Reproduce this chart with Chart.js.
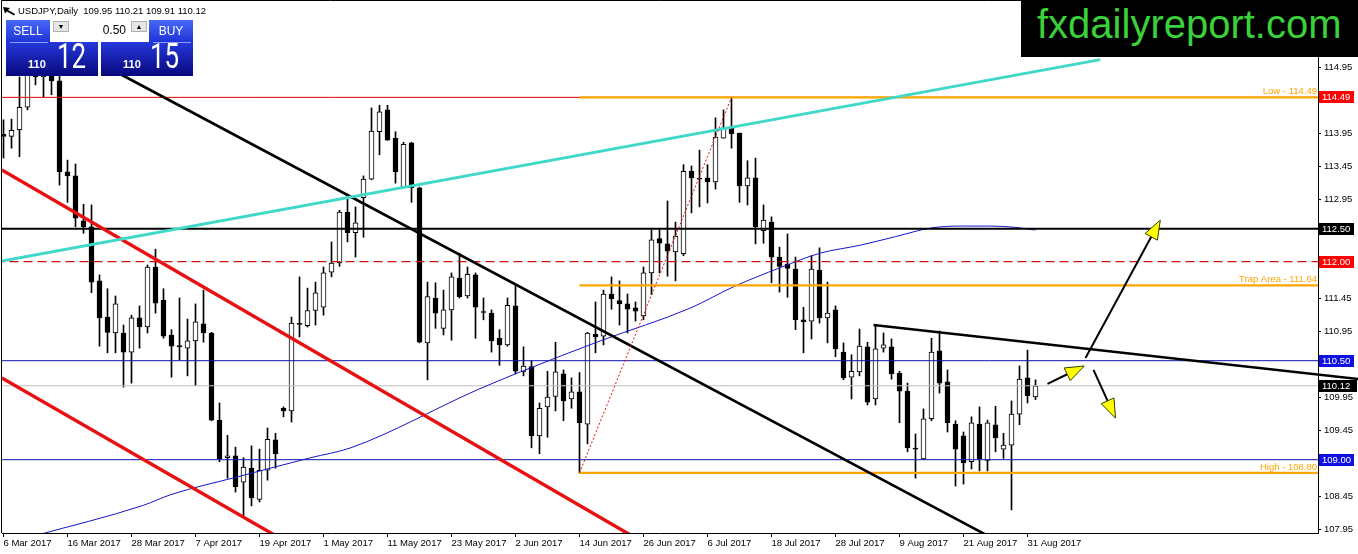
<!DOCTYPE html>
<html>
<head>
<meta charset="utf-8">
<script src="https://cdn.jsdelivr.net/npm/chart.js@4.4.1/dist/chart.umd.min.js"></script>
<style>
  body { margin: 0; background: #fff; overflow: hidden; }
  #wrap { position: relative; width: 1358px; height: 554px; font-family: "Liberation Sans", Arial, sans-serif; }
  #chart { position: absolute; left: 0; top: 0; }
  .abs { position: absolute; }
  .hdr { left: 18px; top: 5px; font-size: 9.5px; line-height: 12px; white-space: pre; color: #000; }
  .btn { top: 20px; width: 44px; height: 22px; color: #fff; font-size: 12px; line-height: 22px; text-align: center;
         background: linear-gradient(#4868f6, #1f34d8); }
  .ctl { left: 51px; top: 20px; width: 97px; height: 22px; background: #fff; }
  .arr { top: 21px; width: 16px; height: 11px; background: #e6e6e6; border: 1px solid #b0b0b0; box-sizing: border-box;
         font-size: 7px; line-height: 10px; text-align: center; color: #000; }
  .lot { left: 72px; top: 23px; width: 54px; text-align: right; font-size: 12px; color: #000; }
  .big { top: 42px; width: 92px; height: 34px; background: linear-gradient(#2538dc, #08087c); overflow: hidden; }
  .sep { top: 42px; width: 38px; height: 1px; background: rgba(190, 200, 255, 0.7); }
  .fig { top: 59px; font-size: 11px; font-weight: bold; line-height: 11px; color: #fff; }
  .pip { top: 39px; font-family: Roboto, "Liberation Sans", sans-serif; font-size: 35px; line-height: 35px; color: #fff;
         transform: scaleX(0.74); transform-origin: left top; }
  #logo { left: 1021px; top: 0; width: 337px; height: 57px; background: #000; }
  #logo span { position: absolute; left: 16px; top: 4px; font-size: 40px; line-height: 40px; color: #3ad13a; white-space: nowrap; }
</style>
</head>
<body>
<div id="wrap">
  <canvas id="chart" width="1358" height="554"></canvas>
  <svg class="abs" style="left:2px;top:6px" width="14" height="10"><path d="M1 1 L8 2 L6 4 L13 8 L12 9.5 L5 5.5 L3 7.5 Z" fill="#000"/></svg>
  <div class="abs hdr">USDJPY,Daily  109.95 110.21 109.91 110.12</div>
  <div class="abs btn" style="left:6px">SELL</div>
  <div class="abs ctl"></div>
  <div class="abs arr" style="left:53px">&#9660;</div>
  <div class="abs lot">0.50</div>
  <div class="abs arr" style="left:131px">&#9650;</div>
  <div class="abs btn" style="left:149px">BUY</div>
  <div class="abs big" style="left:6px"></div>
  <div class="abs big" style="left:101px"></div>
  <div class="abs sep" style="left:10px"></div>
  <div class="abs sep" style="left:153px"></div>
  <div class="abs fig" style="left:28px">110</div>
  <div class="abs pip" style="left:57px">12</div>
  <div class="abs fig" style="left:123px">110</div>
  <div class="abs pip" style="left:150px">15</div>
  <div id="logo" class="abs"><span>fxdailyreport.com</span></div>
</div>
<script>
// bar index 0 = 6 Mar 2017, one bar per trading day, last bar = 1 Sep 2017
const dateLabels = ["6 Mar 2017", "16 Mar 2017", "28 Mar 2017", "7 Apr 2017", "19 Apr 2017", "1 May 2017",
  "11 May 2017", "23 May 2017", "2 Jun 2017", "14 Jun 2017", "26 Jun 2017", "6 Jul 2017", "18 Jul 2017",
  "28 Jul 2017", "9 Aug 2017", "21 Aug 2017", "31 Aug 2017"];
const dateTickBars = [0, 8, 16, 24, 32, 40, 48, 56, 64, 72, 80, 88, 96, 104, 112, 120, 128];
const priceTicks = [107.95, 108.45, 108.95, 109.45, 109.95, 110.45, 110.95, 111.45, 111.95, 112.45,
  112.95, 113.45, 113.95, 114.45, 114.95, 115.45];

const opens = [113.93, 113.90, 114.00, 114.34, 114.95, 114.80, 114.85, 114.74, 113.36, 113.30,
  112.62, 112.53, 111.71, 111.16, 110.92, 110.92, 110.63, 111.15, 111.01, 111.92,
  111.42, 110.89, 110.73, 110.69, 110.80, 111.06, 110.92, 109.60, 109.03, 109.06,
  108.66, 108.87, 108.40, 108.84, 109.30, 109.78, 109.74, 111.06, 111.03, 111.26,
  111.31, 111.84, 111.98, 112.75, 112.44, 112.97, 113.25, 113.97, 114.30, 113.87,
  113.13, 113.80, 113.12, 110.77, 111.45, 110.99, 111.27, 111.75, 111.48, 111.80,
  111.24, 111.22, 110.84, 110.74, 111.33, 110.33, 110.41, 109.36, 109.80, 109.96,
  110.30, 109.92, 110.03, 109.54, 110.90, 110.87, 111.51, 111.41, 111.36, 111.30,
  111.18, 111.83, 112.35, 112.27, 112.15, 112.12, 113.37, 113.26, 113.27, 113.21,
  113.87, 114.03, 113.95, 113.15, 113.27, 112.47, 112.60, 112.07, 111.96, 111.89,
  111.12, 111.10, 111.87, 111.15, 111.27, 110.63, 110.25, 110.33, 110.71, 109.92,
  110.69, 110.71, 110.31, 110.04, 109.17, 109.01, 109.62, 110.65, 110.18, 109.54,
  109.36, 108.97, 109.54, 108.99, 109.53, 109.16, 109.22, 109.69, 110.24, 109.95];
const highs = [114.15, 114.16, 114.80, 115.15, 115.45, 115.05, 115.00, 114.90, 113.54, 113.48,
  112.87, 112.86, 111.80, 111.59, 111.48, 111.04, 111.19, 111.33, 111.95, 112.19,
  111.59, 110.97, 111.45, 111.13, 111.36, 111.57, 110.93, 109.86, 109.37, 109.19,
  109.03, 109.21, 109.16, 109.48, 109.40, 109.80, 111.16, 111.77, 111.60, 111.69,
  111.92, 112.30, 112.78, 112.98, 112.83, 113.30, 114.33, 114.37, 114.37, 113.97,
  113.81, 113.81, 113.13, 111.69, 111.68, 111.57, 111.83, 112.13, 111.92, 111.83,
  111.45, 111.27, 110.97, 111.45, 111.65, 110.71, 110.50, 109.86, 110.34, 110.78,
  110.36, 110.24, 110.32, 110.93, 111.39, 111.57, 111.77, 111.71, 111.51, 111.39,
  111.92, 112.48, 112.50, 112.92, 112.60, 113.47, 113.45, 113.69, 113.47, 114.18,
  114.30, 114.49, 113.95, 113.53, 113.57, 112.86, 112.68, 112.22, 112.42, 112.07,
  111.31, 112.09, 112.21, 111.69, 111.33, 110.77, 110.59, 110.98, 110.78, 111.04,
  110.92, 110.83, 110.34, 110.16, 109.39, 109.77, 110.84, 110.95, 110.36, 109.59,
  109.42, 109.65, 109.80, 109.60, 109.81, 109.40, 109.89, 110.42, 110.66, 110.21];
const lows = [113.57, 113.72, 113.59, 114.30, 114.68, 114.50, 114.53, 113.16, 112.90, 112.53,
  112.43, 111.53, 110.72, 110.62, 110.62, 110.10, 110.16, 110.69, 110.92, 111.22,
  110.84, 110.25, 110.51, 110.27, 110.12, 110.78, 109.59, 108.97, 108.72, 108.51,
  108.13, 108.30, 108.36, 108.69, 108.87, 109.65, 109.57, 110.86, 111.01, 111.04,
  111.19, 111.77, 111.93, 112.30, 112.07, 112.37, 113.24, 113.62, 113.84, 113.19,
  113.13, 112.90, 110.77, 110.21, 110.99, 110.89, 110.81, 111.45, 111.45, 110.84,
  111.12, 110.63, 110.43, 110.72, 110.30, 110.27, 109.18, 109.09, 109.34, 109.74,
  109.59, 109.78, 108.80, 109.24, 110.62, 110.74, 111.28, 111.04, 110.92, 111.10,
  111.12, 111.50, 111.83, 111.78, 111.71, 112.09, 112.74, 112.83, 112.89, 113.10,
  113.87, 113.72, 112.90, 112.86, 112.27, 112.28, 111.68, 111.54, 111.46, 110.97,
  110.62, 110.83, 111.07, 110.77, 110.56, 110.21, 109.92, 110.27, 109.83, 109.83,
  110.63, 110.22, 109.56, 109.12, 108.72, 109.00, 109.59, 110.01, 109.42, 108.60,
  108.63, 108.86, 108.83, 108.83, 109.12, 109.02, 108.24, 109.53, 109.86, 109.91];
const closes = [113.90, 113.99, 114.34, 114.95, 114.80, 114.85, 114.74, 113.36, 113.30, 112.66,
  112.53, 111.69, 111.15, 110.93, 111.36, 110.63, 111.15, 111.01, 111.92, 111.37,
  110.87, 110.72, 110.71, 110.80, 111.09, 110.92, 109.60, 109.01, 109.06, 108.59,
  108.89, 108.42, 108.84, 109.31, 109.09, 109.74, 111.07, 111.05, 111.26, 111.53,
  111.83, 111.98, 112.75, 112.44, 112.59, 113.25, 113.98, 114.27, 113.84, 113.36,
  113.78, 113.12, 110.78, 111.47, 111.22, 111.27, 111.77, 111.47, 111.81, 111.31,
  111.23, 110.80, 110.74, 111.34, 110.34, 110.42, 109.36, 109.78, 109.95, 110.33,
  109.89, 110.03, 109.56, 110.92, 110.86, 111.51, 111.44, 111.36, 111.28, 111.25,
  111.83, 112.33, 112.28, 112.16, 112.39, 113.37, 113.27, 113.25, 113.21, 113.89,
  114.03, 113.94, 113.15, 113.27, 112.53, 112.63, 112.07, 111.93, 111.90, 111.12,
  111.09, 111.89, 111.15, 111.22, 110.68, 110.24, 110.34, 110.72, 109.87, 110.68,
  110.74, 110.30, 110.04, 109.18, 109.16, 109.62, 110.63, 110.16, 109.56, 109.16,
  108.95, 109.56, 109.01, 109.56, 109.33, 109.22, 109.69, 110.22, 109.97, 110.12];

// moving average
const maBars = [4, 17.5, 20.9, 29.25, 38.4, 43.4, 59.25, 64.6, 74.6, 85.9, 91.25, 97.1, 102.1, 107.1,
  111.5, 115.9, 119.6, 123.4, 126.5, 129];
const maValues = [107.85, 108.31, 108.47, 108.74, 109.03, 109.18, 110.06, 110.33, 110.80, 111.30, 111.62,
  111.91, 112.13, 112.25, 112.38, 112.51, 112.54, 112.54, 112.52, 112.48];

// drawn objects: [bar, price] end points
const cyanLine = [[-0.2, 112.01], [137.1, 115.06]];
const redUpper = [[-0.2, 113.39], [78.5, 107.85]];
const redLower = [[-0.2, 110.24], [34, 107.85]];
const blackFall = [[13.4, 114.92], [123, 107.85]];
const blackTop = [[108.75, 111.04], [169.5, 110.22]];
const swingLine = [[72, 108.80], [91, 114.49]];
const arrows = [
  [[130.5, 110.15], [135.1, 110.42]],
  [[135.25, 110.54], [144.6, 112.63]],
  [[136.25, 110.36], [139.0, 109.63]]
];
const noteLevels = [114.49, 111.64, 108.80];
const noteTexts = ["Low - 114.49", "Trap Area - 111.64", "High - 108.80"];
const tagLevels = [114.49, 112.50, 112.00, 110.50, 109.00, 110.12];

const X_MIN = -0.1875, X_MAX = 164.3125, FROM = -1, TO = 170;

function seg(pts) { return pts.map(p => ({ x: p[0], y: p[1] })); }
function flat(v, a) { return [{ x: a, y: v }, { x: TO, y: v }]; }
function lineSet(data, color, width, order, extra) {
  return Object.assign({ type: 'line', data, borderColor: color, borderWidth: width, pointRadius: 0,
    fill: false, order }, extra || {});
}

function drawArrow(ctx, x1, y1, x2, y2) {
  const ang = Math.atan2(y2 - y1, x2 - x1), len = 19, half = 7;
  const bx = x2 - len * Math.cos(ang), by = y2 - len * Math.sin(ang);
  ctx.strokeStyle = '#000';
  ctx.lineWidth = 2;
  ctx.beginPath(); ctx.moveTo(x1, y1); ctx.lineTo(bx, by); ctx.stroke();
  ctx.beginPath();
  ctx.moveTo(x2, y2);
  ctx.lineTo(bx + half * Math.sin(ang), by - half * Math.cos(ang));
  ctx.lineTo(bx - half * Math.sin(ang), by + half * Math.cos(ang));
  ctx.closePath();
  ctx.fillStyle = '#ffff00';
  ctx.fill();
  ctx.lineWidth = 1;
  ctx.strokeStyle = '#3a3a00';
  ctx.stroke();
}

const overlay = {
  id: 'overlay',
  afterDatasetsDraw(chart) {
    const { ctx, chartArea: a, scales: { x, y } } = chart;
    ctx.save();
    ctx.beginPath(); ctx.rect(a.left, a.top, a.right - a.left, a.bottom - a.top); ctx.clip();
    arrows.forEach(([p, q]) => drawArrow(ctx, x.getPixelForValue(p[0]), y.getPixelForValue(p[1]),
      x.getPixelForValue(q[0]), y.getPixelForValue(q[1])));
    ctx.font = '9.5px "Liberation Sans", Arial, sans-serif';
    ctx.fillStyle = '#ffa500';
    ctx.textAlign = 'right';
    ctx.textBaseline = 'bottom';
    noteLevels.forEach((v, i) => ctx.fillText(noteTexts[i], a.right - 1, y.getPixelForValue(v) - 1));
    ctx.restore();
  },
  afterDraw(chart) {
    const { ctx, chartArea: a, scales: { y } } = chart;
    const tagBg = ['#ff0000', '#000000', '#ff0000', '#1010e0', '#1010e0', '#000000'];
    ctx.save();
    ctx.font = '9.5px "Liberation Sans", Arial, sans-serif';
    ctx.textAlign = 'left';
    ctx.textBaseline = 'middle';
    tagLevels.forEach((v, i) => {
      const py = Math.round(y.getPixelForValue(v));
      ctx.fillStyle = tagBg[i];
      ctx.fillRect(a.right + 1, py - 6, i === 5 ? 38 : 35, 12);
      ctx.fillStyle = '#fff';
      ctx.fillText(v.toFixed(2), a.right + 4, py + 0.5);
    });
    ctx.strokeStyle = '#000';
    ctx.lineWidth = 1;
    ctx.beginPath();
    ctx.moveTo(a.left - 0.5, a.bottom);
    ctx.lineTo(a.left - 0.5, a.top - 0.5);
    ctx.lineTo(a.right, a.top - 0.5);
    ctx.stroke();
    ctx.restore();
  }
};

const wickData = opens.map((o, i) => ({ x: i, y: [lows[i], highs[i]] }));
const bodyData = opens.map((o, i) => ({ x: i, y: [o, closes[i]] }));
const bodyFill = opens.map((o, i) => closes[i] > o ? '#ffffff' : '#000000');
const maData = maBars.map((b, i) => ({ x: b, y: maValues[i] }));

Chart.defaults.font.family = '"Liberation Sans", Arial, sans-serif';
Chart.defaults.font.size = 9.5;
Chart.defaults.color = '#000';

new Chart(document.getElementById('chart').getContext('2d'), {
  type: 'bar',
  data: {
    datasets: [
      { type: 'bar', data: wickData, backgroundColor: '#000', borderWidth: 0, barThickness: 1, grouped: false, order: 11 },
      { type: 'bar', data: bodyData, backgroundColor: bodyFill, borderColor: '#000', borderWidth: 1,
        borderSkipped: false, barThickness: 5, minBarLength: 1, grouped: false, order: 10 },
      lineSet(flat(110.12, FROM), '#c0c0c0', 1, 8),
      lineSet(maData, '#1414c8', 1, 6, { cubicInterpolationMode: 'monotone' }),
      lineSet(flat(110.50, FROM), '#1010b0', 1, 4),
      lineSet(flat(109.00, FROM), '#1010b0', 1, 4),
      lineSet(flat(112.00, FROM), '#d01010', 1.3, 4, { borderDash: [9, 5] }),
      lineSet(flat(114.49, FROM), '#e00000', 1, 4),
      lineSet(flat(112.50, FROM), '#000000', 2, 3),
      lineSet(flat(114.49, 72), '#ffa500', 2.2, 3),
      lineSet(flat(111.64, 72), '#ffa500', 2.2, 3),
      lineSet(flat(108.80, 72), '#ffa500', 2.2, 3),
      lineSet(seg(swingLine), '#e01010', 1, 2, { borderDash: [2, 2] }),
      lineSet(seg(cyanLine), '#40d8c8', 2.8, 2),
      lineSet(seg(redUpper), '#e81010', 3.4, 2),
      lineSet(seg(redLower), '#e81010', 3.4, 2),
      lineSet(seg(blackFall), '#000000', 2.6, 2),
      lineSet(seg(blackTop), '#000000', 2.6, 2, { clip: { left: 1, top: 1, right: 45, bottom: 1 } })
    ]
  },
  options: {
    responsive: false,
    devicePixelRatio: 1,
    animation: false,
    events: [],
    layout: { padding: { left: 2, top: 1, right: 0, bottom: 0 } },
    plugins: { legend: { display: false }, tooltip: { enabled: false } },
    scales: {
      x: {
        type: 'linear', min: X_MIN, max: X_MAX, offset: false,
        afterBuildTicks: s => { s.ticks = dateTickBars.map(v => ({ value: v })); },
        afterFit: s => { s.height = 21; s.paddingLeft = 0; s.paddingRight = 0; },
        grid: { drawOnChartArea: false, tickLength: 4, color: '#000', offset: false },
        border: { color: '#000', width: 1 },
        ticks: { align: 'start', padding: 1, maxRotation: 0, autoSkip: false, color: '#000',
          callback: (v, i) => dateLabels[i] }
      },
      y: {
        type: 'linear', position: 'right', min: 107.8894, max: 115.95,
        afterBuildTicks: s => { s.ticks = priceTicks.map(v => ({ value: v })); },
        afterFit: s => { s.width = 40; s.paddingTop = 0; s.paddingBottom = 0; },
        grid: { drawOnChartArea: false, tickLength: 3, color: '#000' },
        border: { color: '#000', width: 1 },
        ticks: { padding: 3, color: '#000', callback: v => Number(v).toFixed(2) }
      }
    }
  },
  plugins: [overlay]
});
</script>
</body>
</html>
